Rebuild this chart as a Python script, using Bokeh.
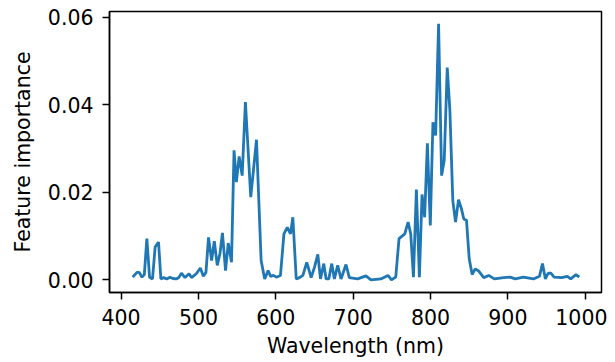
from bokeh.plotting import figure
from bokeh.models import Range1d, FixedTicker, CustomJSTickFormatter
from bokeh.embed import file_html
from bokeh.resources import INLINE

wavelength = [415, 420.5, 423.4, 427, 430, 433.3, 436.8, 440.6, 444, 448.4, 451.4,
              455, 459, 463, 467, 471, 474.5, 478, 482.6, 487.8, 491, 494.5, 497.7,
              502.4, 506.3, 509.7, 513, 517, 520.5, 524.3, 527.7, 531, 535, 538.5,
              542.7, 546, 549, 552.6, 556.5, 560.7, 567.6, 575, 581, 585.6, 590,
              593.3, 597, 600.6, 606, 610.5, 614.8, 619, 622, 626.4, 630.7, 635,
              640, 645.7, 650, 654.3, 657.7, 662, 665, 668.5, 672.3, 675.7, 680,
              684.3, 690.7, 695, 705.8, 716.5, 723, 735.8, 745, 749.5, 755, 759.3,
              766.7, 771, 774.4, 777.9, 781.7, 785.6, 789, 792.4, 795.9, 799.7,
              803.1, 806.6, 810.4, 814.3, 817.7, 821.6, 825, 828.8, 832.3, 836.2,
              840, 843, 846.5, 850, 853.8, 857.7, 862.3, 868.8, 875.2, 882.5, 894.5,
              903, 909.5, 920, 933, 940.8, 944.7, 948.5, 952, 955.8, 959.7, 969.6,
              976.8, 981.2, 988, 992.3]
importance = [0.0006, 0.0017, 0.0017, 0.0006, 0.0012, 0.0094, 0.0006, 0.0002, 0.0075,
              0.0086, 0.0002, 0.0005, 0.0002, 0.0006, 0.0003, 0.0002, 0.0005, 0.0015,
              0.0005, 0.0014, 0.0005, 0.0010, 0.0015, 0.0027, 0.0008, 0.0017, 0.0097,
              0.0044, 0.0088, 0.0033, 0.0059, 0.0107, 0.0021, 0.0084, 0.0040, 0.0296,
              0.0223, 0.0282, 0.0238, 0.0406, 0.0189, 0.0320, 0.0044, 0.0002, 0.0021,
              0.0008, 0.0010, 0.0006, 0.0010, 0.0105, 0.0120, 0.0105, 0.0143, 0.0002,
              0.0005, 0.0010, 0.0040, 0.0005, 0.0029, 0.0058, 0.0002, 0.0037, 0.0002,
              0.0002, 0.0037, 0.0002, 0.0033, 0.0002, 0.0035, 0.0005, 0.0002, 0.0009,
              0.0000, 0.0002, 0.0010, 0.0000, 0.0006, 0.0094, 0.0105, 0.0132, 0.0105,
              0.0006, 0.0206, 0.0006, 0.0195, 0.0143, 0.0312, 0.0124, 0.0360, 0.0330,
              0.0585, 0.0238, 0.0273, 0.0485, 0.0387, 0.0181, 0.0132, 0.0183, 0.0162,
              0.0139, 0.0136, 0.0048, 0.0012, 0.0025, 0.0020, 0.0005, 0.0010, 0.0002,
              0.0005, 0.0006, 0.0002, 0.0006, 0.0002, 0.0008, 0.0037, 0.0002, 0.0015,
              0.0015, 0.0006, 0.0005, 0.0008, 0.0002, 0.0012, 0.0006]

x_ticks = [400, 500, 600, 700, 800, 900, 1000]
y_ticks = [0.00, 0.02, 0.04, 0.06]

p = figure(width=607, height=362, output_backend="svg", toolbar_location=None,
           x_range=Range1d(385, 1021), y_range=Range1d(-0.0029, 0.0613),
           min_border_left=109, min_border_right=6, min_border_top=11, min_border_bottom=70)

p.line(wavelength, importance, line_color="#1f77b4", line_width=2.8)

p.grid.visible = False
p.outline_line_color = "black"
p.outline_line_width = 1.5
p.background_fill_color = "white"
p.border_fill_color = "white"

for ax in (p.xaxis[0], p.yaxis[0]):
    ax.axis_line_color = "black"
    ax.axis_line_width = 1.5
    ax.major_tick_line_color = "black"
    ax.major_tick_line_width = 1.5
    ax.major_tick_out = 7
    ax.major_tick_in = 0
    ax.minor_tick_line_color = None
    ax.major_label_text_font = "DejaVu Sans"
    ax.major_label_text_font_size = "20.5px"
    ax.major_label_text_color = "black"
    ax.axis_label_text_font = "DejaVu Sans"
    ax.axis_label_text_font_size = "20.5px"
    ax.axis_label_text_font_style = "normal"
    ax.axis_label_text_color = "black"

p.xaxis.major_label_standoff = 9
p.yaxis.major_label_standoff = 9
p.xaxis.ticker = FixedTicker(ticks=x_ticks)
p.yaxis.ticker = FixedTicker(ticks=y_ticks)
p.yaxis.formatter = CustomJSTickFormatter(code="return tick.toFixed(2);")
p.xaxis.axis_label = "Wavelength (nm)"
p.yaxis.axis_label = "Feature importance"
p.xaxis.axis_label_standoff = 6
p.yaxis.axis_label_standoff = 10

open("out.html", "w").write(file_html(p, INLINE))
